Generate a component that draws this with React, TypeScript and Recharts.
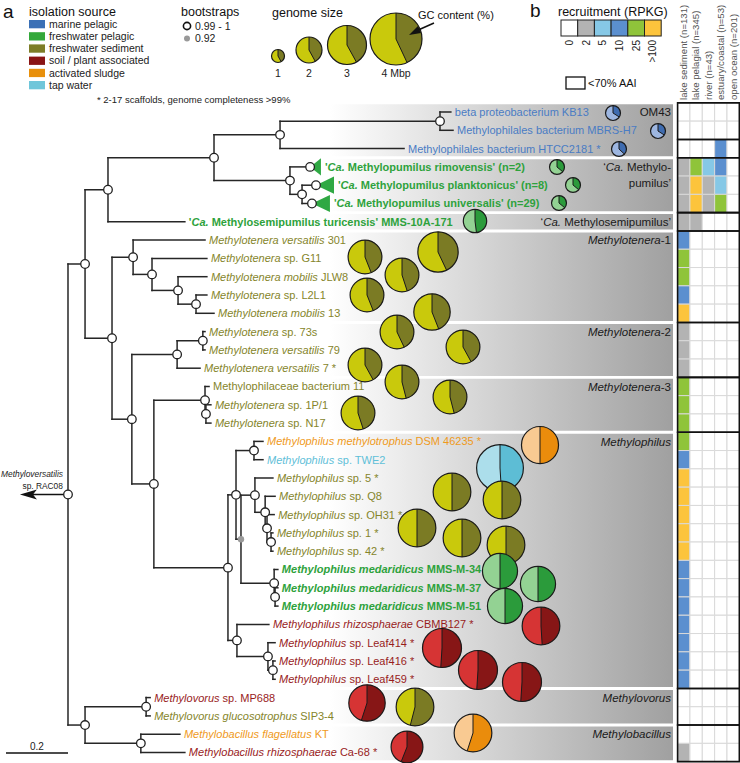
import React from "react";
import {
  ScatterChart,
  Scatter,
  XAxis,
  YAxis,
  ReferenceLine,
  ReferenceArea,
} from "recharts";

const FONT = "'Liberation Sans', Arial, Helvetica, sans-serif";

// isolation sources (legend order)
const sourceLabels = [
  "marine pelagic",
  "freshwater pelagic",
  "freshwater sediment",
  "soil / plant associated",
  "activated sludge",
  "tap water",
];
const swatchColors = ["#3a70b6", "#33a83a", "#7d7d27", "#8a1414", "#e8900c", "#6fc6da"];
const labelColors = ["#4a7cc4", "#2ea23c", "#85852b", "#981c1c", "#ef9a1c", "#5fc0d8"];
const pieLight = ["#9db6e0", "#93d293", "#c9c90c", "#d63434", "#f9ca92", "#acdeeb"];
const pieDark = ["#3f6cb0", "#2b9b3b", "#7b7b24", "#871616", "#ea8c0c", "#5dbdd5"];

// leaves, top to bottom (_x_ = italic)
const leafNames = [
  "beta proteobacterium KB13",
  "Methylophilales bacterium MBRS-H7",
  "Methylophilales bacterium HTCC2181 *",
  "'_Ca._ Methylopumilus rimovensis' (n=2)",
  "'_Ca._ Methylopumilus planktonicus' (n=8)",
  "'_Ca._ Methylopumilus universalis' (n=29)",
  "'_Ca._ Methylosemipumilus turicensis' MMS-10A-171",
  "_Methylotenera versatilis_ 301",
  "_Methylotenera_ sp. G11",
  "_Methylotenera mobilis_ JLW8",
  "_Methylotenera_ sp. L2L1",
  "_Methylotenera mobilis_ 13",
  "_Methylotenera_ sp. 73s",
  "_Methylotenera versatilis_ 79",
  "_Methylotenera versatilis_ 7 *",
  "Methylophilaceae bacterium 11",
  "_Methylotenera_ sp. 1P/1",
  "_Methylotenera_ sp. N17",
  "_Methylophilus methylotrophus_ DSM 46235 *",
  "_Methylophilus_ sp. TWE2",
  "_Methylophilus_ sp. 5 *",
  "_Methylophilus_ sp. Q8",
  "_Methylophilus_ sp. OH31 *",
  "_Methylophilus_ sp. 1 *",
  "_Methylophilus_ sp. 42 *",
  "_Methylophilus medaridicus_ MMS-M-34",
  "_Methylophilus medaridicus_ MMS-M-37",
  "_Methylophilus medaridicus_ MMS-M-51",
  "_Methylophilus rhizosphaerae_ CBMB127 *",
  "_Methylophilus_ sp. Leaf414 *",
  "_Methylophilus_ sp. Leaf416 *",
  "_Methylophilus_ sp. Leaf459 *",
  "_Methylovorus_ sp. MP688",
  "_Methylovorus glucosotrophus_ SIP3-4",
  "_Methylobacillus flagellatus_ KT",
  "_Methylobacillus rhizosphaerae_ Ca-68 *",
];
const leafSource = [
  0, 0, 0, 1, 1, 1, 1, 2, 2, 2, 2, 2, 2, 2, 2, 2, 2, 2, 4, 5, 2, 2, 2, 2, 2, 1, 1, 1, 3, 3, 3, 3, 3, 2, 4, 3,
];
const newTaxaRows = [4, 5, 6, 7, 26, 27, 28];

// tip depth (substitutions/site from the root)
const leafTip = [
  1.235, 1.242, 1.084, 0.816, 0.858, 0.845, 0.377, 0.442, 0.448, 0.448, 0.448, 0.471, 0.442, 0.442,
  0.426, 0.455, 0.461, 0.461, 0.629, 0.629, 0.661, 0.668, 0.665, 0.661, 0.661, 0.677, 0.677, 0.677,
  0.648, 0.668, 0.668, 0.668, 0.265, 0.265, 0.361, 0.377,
];
// collapsed clades: depth of the clade's base node
const collapsedBase: Record<number, number> = { 4: 0.781, 5: 0.8, 6: 0.787 };

const genomeSize = [
  1.15, 1.15, 1.15, 1.15, 1.15, 1.15, 1.8, 3.1, 2.6, 2.6, 2.6, 2.8, 2.6, 2.6, 2.6, 2.6, 2.6, 2.6, 2.85,
  3.6, 2.9, 2.9, 2.9, 2.9, 2.9, 2.7, 2.7, 2.7, 2.9, 3.0, 3.0, 3.0, 2.8, 2.9, 2.9, 2.45,
];
const gcContent = [
  34, 34, 37, 36, 36, 36, 48, 43, 44, 45, 44, 44, 43, 42, 42, 46, 46, 45, 50, 49, 50, 50, 50, 50, 50,
  50, 50, 50, 49, 51, 51, 51, 55, 54, 55, 56,
];

// internal nodes: depth, children (numbers = leaf rows), bootstrap support
const treeNodes = [
  { id: "root", depth: 0, kids: ["G", "Y"], support: 1 },
  { id: "G", depth: 0.055, kids: ["E", "H"], support: 1 },
  { id: "E", depth: 0.129, kids: ["B", 7], support: 1 },
  { id: "B", depth: 0.471, kids: ["A", "C"], support: 1 },
  { id: "A", depth: 0.684, kids: ["OM", 3], support: 1 },
  { id: "OM", depth: 1.2, kids: [1, 2], support: 1 },
  { id: "C", depth: 0.716, kids: [4, "D"], support: 1 },
  { id: "D", depth: 0.755, kids: [5, 6], support: 1 },
  { id: "H", depth: 0.142, kids: ["T1", "I"], support: 1 },
  { id: "T1", depth: 0.21, kids: [8, "n1"], support: 1 },
  { id: "n1", depth: 0.271, kids: [9, "n2"], support: 1 },
  { id: "n2", depth: 0.355, kids: [10, "n3"], support: 1 },
  { id: "n3", depth: 0.413, kids: [11, 12], support: 1 },
  { id: "I", depth: 0.206, kids: ["T2", "J"], support: 1 },
  { id: "T2", depth: 0.352, kids: ["n4", 15], support: 1 },
  { id: "n4", depth: 0.435, kids: [13, 14], support: 1 },
  { id: "J", depth: 0.277, kids: ["T3", "K"], support: 1 },
  { id: "T3", depth: 0.442, kids: [16, "n5"], support: 1 },
  { id: "n5", depth: 0.445, kids: [17, 18], support: 1 },
  { id: "K", depth: 0.516, kids: ["L", "M"], support: 1 },
  { id: "L", depth: 0.542, kids: ["N", "Q"], support: 1 },
  { id: "N", depth: 0.6, kids: [19, 20], support: 1 },
  { id: "Q", depth: 0.558, kids: ["O", "P"], support: 0.92 },
  { id: "O", depth: 0.603, kids: [21, "R"], support: 1 },
  { id: "R", depth: 0.636, kids: [22, "T"], support: 1 },
  { id: "T", depth: 0.642, kids: [23, "U"], support: 1 },
  { id: "U", depth: 0.655, kids: [24, 25], support: 1 },
  { id: "P", depth: 0.665, kids: [26, "V"], support: 1 },
  { id: "V", depth: 0.668, kids: [27, 28], support: 1 },
  { id: "M", depth: 0.545, kids: [29, "W"], support: 1 },
  { id: "W", depth: 0.645, kids: [30, "X"], support: 1 },
  { id: "X", depth: 0.661, kids: [31, 32], support: 1 },
  { id: "Y", depth: 0.055, kids: ["Z", "AA"], support: 1 },
  { id: "Z", depth: 0.252, kids: [33, 34], support: 1 },
  { id: "AA", depth: 0.235, kids: [35, 36], support: 1 },
];

// recruitment (RPKG bins) per habitat, one value per leaf row
const habitats = [
  "lake sediment (n=131)",
  "lake pelagial (n=345)",
  "river (n=43)",
  "estuary/coastal (n=53)",
  "open ocean (n=201)",
];
const rpkgBins = [0, 2, 5, 10, 25, 100];
const rpkgLabels = ["0", "2", "5", "10", "25", ">100"];
const rpkgColors = ["#ffffff", "#b3b3b3", "#86c8e6", "#5b8fcf", "#8fc43a", "#fcc43c"];
const lakeSediment = [0, 0, 0, 2, 2, 2, 2, 10, 25, 25, 10, 100, 2, 2, 2, 25, 25, 25, 25, 10, 100, 100, 100, 100, 100, 10, 10, 10, 10, 10, 10, 10, 0, 0, 0, 2];
const lakePelagial = [0, 0, 0, 25, 100, 100, 2, 0, 0, 0, 0, 0, 0, 0, 0, 0, 0, 0, 0, 0, 0, 0, 0, 0, 0, 0, 0, 0, 0, 0, 0, 0, 0, 0, 0, 0];
const river = [0, 0, 0, 5, 2, 2, 0, 0, 0, 0, 0, 0, 0, 0, 0, 0, 0, 0, 0, 0, 0, 0, 0, 0, 0, 0, 0, 0, 0, 0, 0, 0, 0, 0, 0, 0];
const estuary = [0, 0, 10, 10, 5, 25, 0, 0, 0, 0, 0, 0, 0, 0, 0, 0, 0, 0, 0, 0, 0, 0, 0, 0, 0, 0, 0, 0, 0, 0, 0, 0, 0, 0, 0, 0];
const openOcean = [0, 0, 0, 0, 0, 0, 0, 0, 0, 0, 0, 0, 0, 0, 0, 0, 0, 0, 0, 0, 0, 0, 0, 0, 0, 0, 0, 0, 0, 0, 0, 0, 0, 0, 0, 0];
const recruitment = [lakeSediment, lakePelagial, river, estuary, openOcean];

// clades (shaded bands) and <70% AAI boxes
const cladeLabels = [
  "OM43",
  "‘_Ca._ Methylo-|pumilus’",
  "‘_Ca._ Methylosemipumilus’",
  "_Methylotenera_-1",
  "_Methylotenera_-2",
  "_Methylotenera_-3",
  "_Methylophilus_",
  "_Methylovorus_",
  "_Methylobacillus_",
];
const cladeFirst = [1, 4, 7, 8, 13, 16, 19, 33, 35];
const cladeLast = [3, 6, 7, 12, 15, 18, 32, 34, 36];
const aaiGroups = [[1, 2], [3, 3], [4, 6], [7, 7], [8, 12], [13, 15], [16, 18], [19, 32], [33, 34], [35, 36]];

// pie placement next to the labels (page pixels)
const pieLayout = [
  [613, 113], [658, 131], [619, 149], [557, 167], [573, 185], [559, 203], [475, 221],
  [438, 252], [365, 257], [402, 275], [367, 295], [432, 312],
  [397, 332], [463, 347], [365, 365],
  [402, 382], [450, 397], [358, 413],
  [540, 445], [500, 468], [452, 492], [502, 500], [417, 528], [462, 538], [506, 545],
  [500, 571], [538, 584], [505, 606], [541, 626], [442, 648], [478, 670], [522, 682],
  [367, 703], [415, 707], [473, 733], [407, 747],
];

// genome-size legend
const legendSizes = [1, 2, 3, 4];
const legendGC = [42, 42, 42, 43];

const MBP_R = 6.5;

// ---------- tree layout ----------
const nodeById = new Map(treeNodes.map((n) => [n.id, n]));
const rowOf = (k: any): number => {
  if (typeof k === "number") return k;
  const n: any = nodeById.get(k);
  return (rowOf(n.kids[0]) + rowOf(n.kids[n.kids.length - 1])) / 2;
};
const startOf = (k: any): number =>
  typeof k === "number" ? collapsedBase[k] ?? leafTip[k - 1] : (nodeById.get(k) as any).depth;

const edges: { x1: number; y1: number; x2: number; y2: number }[] = [];
treeNodes.forEach((n) => {
  const ys = n.kids.map(rowOf);
  edges.push({ x1: n.depth, y1: ys[0], x2: n.depth, y2: ys[ys.length - 1] });
  n.kids.forEach((k, i) => edges.push({ x1: n.depth, y1: ys[i], x2: startOf(k), y2: ys[i] }));
});

const nodePoints = [
  ...treeNodes.map((n) => ({ x: n.depth, y: rowOf(n.id), support: n.support })),
  ...Object.keys(collapsedBase).map((r) => ({ x: collapsedBase[Number(r)], y: Number(r), support: 1 })),
];
const rootRow = rowOf("root");

const leafPoints = leafNames.map((name, i) => ({
  x: leafTip[i],
  y: i + 1,
  name,
  src: leafSource[i],
  bold: newTaxaRows.includes(i + 1),
}));

const piePoints = leafNames.map((_, i) => ({
  x: pieLayout[i][0],
  y: pieLayout[i][1],
  size: genomeSize[i],
  gc: gcContent[i],
  src: leafSource[i],
}));

const heatCells: { col: number; row: number; v: number }[] = [];
recruitment.forEach((vals, c) => vals.forEach((v, r) => heatCells.push({ col: c, row: r + 1, v })));

const rich = (s: string) =>
  s.split("_").map((p, i) =>
    p === "" ? null : (
      <tspan key={i} fontStyle={i % 2 ? "italic" : "normal"}>
        {p}
      </tspan>
    )
  );

function PieGlyph({ cx, cy, r, gc, light, dark }: any) {
  const a = (gc / 100) * Math.PI * 2;
  const ex = cx + r * Math.sin(a);
  const ey = cy - r * Math.cos(a);
  const large = gc > 50 ? 1 : 0;
  return (
    <g>
      <circle cx={cx} cy={cy} r={r} fill={light} />
      <path d={`M${cx},${cy} L${cx},${cy - r} A${r},${r} 0 ${large} 1 ${ex},${ey} Z`} fill={dark} />
      <path d={`M${cx},${cy - r} L${cx},${cy} L${ex},${ey}`} fill="none" stroke="#1a1a1a" strokeWidth={1} />
      <circle cx={cx} cy={cy} r={r} fill="none" stroke="#1a1a1a" strokeWidth={1.2} />
    </g>
  );
}

function LegendOverlay() {
  const swY = [20, 32.2, 44.4, 56.6, 68.8, 81];
  const lgX = [278, 309, 347, 396];
  const lgY = [56, 50, 45, 39];
  return (
    <svg width={740} height={110} style={{ position: "absolute", left: 0, top: 0 }} fontFamily={FONT}>
      <text x={3} y={18} fontSize={19} fill="#111">a</text>
      <text x={29} y={16} fontSize={12.5} fill="#111">isolation source</text>
      {sourceLabels.map((s, i) => (
        <g key={s}>
          <rect x={29} y={swY[i]} width={16} height={8.3} fill={swatchColors[i]} />
          <text x={49} y={swY[i] + 7.8} fontSize={10.5} fill="#222">{s}</text>
        </g>
      ))}
      <text x={181} y={16} fontSize={12.5} fill="#111">bootstraps</text>
      <circle cx={187} cy={26} r={3.6} fill="#fff" stroke="#111" strokeWidth={1.6} />
      <text x={195} y={30} fontSize={10.5} fill="#222">0.99 - 1</text>
      <circle cx={187} cy={38.5} r={3} fill="#999" />
      <text x={195} y={42} fontSize={10.5} fill="#222">0.92</text>
      <text x={97} y={103} fontSize={9.5} fill="#222">* 2-17 scaffolds, genome completeness &gt;99%</text>

      <text x={272} y={17} fontSize={12.5} fill="#111">genome size</text>
      {legendSizes.map((s, i) => (
        <g key={s}>
          <PieGlyph cx={lgX[i]} cy={lgY[i]} r={s * MBP_R} gc={legendGC[i]} light={pieLight[2]} dark={pieDark[2]} />
          <text x={lgX[i]} y={77} fontSize={10.5} textAnchor="middle" fill="#222">
            {i === 3 ? "4 Mbp" : String(s)}
          </text>
        </g>
      ))}
      <text x={418} y={19} fontSize={11} fill="#111">GC content (%)</text>
      <line x1={434} y1={23} x2={416} y2={31} stroke="#111" strokeWidth={1.4} />
      <polygon points="409,35 418,26 421,33" fill="#111" />

      <text x={530} y={17} fontSize={19} fill="#111">b</text>
      <text x={558} y={16} fontSize={12.5} fill="#111">recruitment (RPKG)</text>
      {rpkgColors.map((c, i) => (
        <g key={c}>
          <rect x={561 + i * 16.7} y={20} width={16.7} height={16} fill={c} stroke="#222" strokeWidth={1} />
          <text
            x={561 + i * 16.7 + 8.35}
            y={40}
            dy="0.35em"
            fontSize={10}
            fill="#222"
            textAnchor="end"
            transform={`rotate(-90 ${561 + i * 16.7 + 8.35} 40)`}
          >
            {rpkgLabels[i]}
          </text>
        </g>
      ))}
      <rect x={566} y={77} width={19} height={12} fill="#fff" stroke="#111" strokeWidth={1.3} />
      <text x={588} y={87} fontSize={11} fill="#111">&lt;70% AAI</text>
    </svg>
  );
}

export default function App() {
  return (
    <div style={{ position: "absolute", left: 0, top: 0, width: 740, height: 763, background: "#fff" }}>
      <ScatterChart width={740} height={763} margin={{ top: 0, right: 0, bottom: 0, left: 0 }}>
        <defs>
          <linearGradient id="bandFade" x1="0" y1="0" x2="1" y2="0">
            <stop offset="0%" stopColor="#ffffff" />
            <stop offset="100%" stopColor="#a0a0a0" />
          </linearGradient>
        </defs>
        <XAxis xAxisId="tree" type="number" dataKey="x" domain={[-0.21935, 2.16774]} allowDataOverflow hide />
        <XAxis xAxisId="px" type="number" dataKey="x" domain={[0, 740]} allowDataOverflow hide />
        <XAxis xAxisId="hm" type="number" dataKey="x" domain={[-54.866, 5.053]} allowDataOverflow hide />
        <YAxis yAxisId="row" type="number" dataKey="y" domain={[-5.12, 36.574]} reversed allowDataOverflow hide />
        <YAxis yAxisId="px" type="number" dataKey="y" domain={[0, 763]} reversed allowDataOverflow hide />

        {/* clade bands */}
        {cladeFirst.map((f, i) => (
          <ReferenceArea
            key={`band-${i}`}
            xAxisId="px"
            yAxisId="row"
            x1={330}
            x2={673}
            y1={f - 0.5 + 0.08}
            y2={cladeLast[i] + 0.5 - 0.08}
            fill="url(#bandFade)"
            fillOpacity={1}
            stroke="none"
          />
        ))}

        {/* recruitment heatmap */}
        {heatCells.map((c) => (
          <ReferenceArea
            key={`hm-${c.col}-${c.row}`}
            xAxisId="hm"
            yAxisId="row"
            x1={c.col}
            x2={c.col + 1}
            y1={c.row - 0.5}
            y2={c.row + 0.5}
            fill={rpkgColors[rpkgBins.indexOf(c.v)]}
            fillOpacity={1}
            stroke="#d9d9d9"
            strokeWidth={1}
          />
        ))}
        {aaiGroups.map(([a, b]) => (
          <ReferenceArea
            key={`aai-${a}`}
            xAxisId="hm"
            yAxisId="row"
            x1={0}
            x2={5}
            y1={a - 0.5}
            y2={b + 0.5}
            fill="none"
            fillOpacity={0}
            stroke="#111"
            strokeWidth={1.6}
          />
        ))}

        {/* tree branches */}
        {edges.map((e, i) => (
          <ReferenceLine
            key={`e-${i}`}
            xAxisId="tree"
            yAxisId="row"
            segment={[
              { x: e.x1, y: e.y1 },
              { x: e.x2, y: e.y2 },
            ]}
            stroke="#262626"
            strokeWidth={1.5}
            strokeLinecap="square"
          />
        ))}
        {/* outgroup arrow */}
        <ReferenceLine
          xAxisId="tree"
          yAxisId="row"
          segment={[
            { x: -0.115, y: rootRow },
            { x: 0, y: rootRow },
          ]}
          stroke="#111"
          strokeWidth={1.6}
        />
        {/* scale bar */}
        <ReferenceLine
          xAxisId="tree"
          yAxisId="px"
          segment={[
            { x: -0.2, y: 753 },
            { x: 0, y: 753 },
          ]}
          stroke="#111"
          strokeWidth={1.3}
        />

        {/* collapsed clades */}
        {Object.keys(collapsedBase).map((r) => {
          const row = Number(r);
          return (
            <ReferenceArea
              key={`tri-${row}`}
              xAxisId="tree"
              yAxisId="row"
              x1={collapsedBase[row]}
              x2={leafTip[row - 1]}
              y1={row - 0.47}
              y2={row + 0.47}
              fillOpacity={1}
              shape={(p: any) => (
                <polygon
                  points={`${p.x},${p.y + p.height / 2} ${p.x + p.width},${p.y} ${p.x + p.width},${p.y + p.height}`}
                  fill="#2fa843"
                />
              )}
            />
          );
        })}

        <Scatter
          xAxisId="tree"
          yAxisId="row"
          data={[{ x: -0.155, y: rootRow }]}
          isAnimationActive={false}
          shape={(p: any) => (
            <g>
              <polygon
                points={`${p.cx},${p.cy} ${p.cx + 17},${p.cy - 5} ${p.cx + 13},${p.cy} ${p.cx + 17},${p.cy + 5}`}
                fill="#111"
              />
              <text x={p.cx + 43} y={p.cy - 18} fontSize={8.4} fontFamily={FONT} textAnchor="end" fontStyle="italic" fill="#222">
                Methyloversatilis
              </text>
              <text x={p.cx + 43} y={p.cy - 6} fontSize={8.4} fontFamily={FONT} textAnchor="end" fill="#222">
                sp. RAC08
              </text>
            </g>
          )}
        />

        <Scatter
          xAxisId="tree"
          yAxisId="row"
          data={nodePoints}
          isAnimationActive={false}
          shape={(p: any) =>
            p.payload.support >= 0.99 ? (
              <circle cx={p.cx} cy={p.cy} r={4.3} fill="#fff" stroke="#222" strokeWidth={1.3} />
            ) : (
              <circle cx={p.cx} cy={p.cy} r={3.2} fill="#9a9a9a" />
            )
          }
        />

        <Scatter
          xAxisId="tree"
          yAxisId="row"
          data={leafPoints}
          isAnimationActive={false}
          shape={(p: any) => (
            <text
              x={p.cx + 4}
              y={p.cy}
              dy="0.36em"
              fontFamily={FONT}
              fontSize={11}
              fontWeight={p.payload.bold ? "bold" : "normal"}
              fill={labelColors[p.payload.src]}
              style={{ whiteSpace: "pre" }}
            >
              {rich(p.payload.name)}
            </text>
          )}
        />

        <Scatter
          xAxisId="px"
          yAxisId="px"
          data={piePoints}
          isAnimationActive={false}
          shape={(p: any) => (
            <PieGlyph
              cx={p.cx}
              cy={p.cy}
              r={p.payload.size * MBP_R}
              gc={p.payload.gc}
              light={pieLight[p.payload.src]}
              dark={pieDark[p.payload.src]}
            />
          )}
        />

        <Scatter
          xAxisId="px"
          yAxisId="row"
          data={cladeLabels.map((l, i) => ({ x: 671, y: cladeFirst[i], label: l }))}
          isAnimationActive={false}
          shape={(p: any) => (
            <text x={p.cx} y={p.cy} fontFamily={FONT} fontSize={11.5} fill="#1a1a1a" textAnchor="end" style={{ whiteSpace: "pre" }}>
              {p.payload.label.split("|").map((line: string, j: number) => (
                <tspan key={j} x={p.cx} dy={j === 0 ? "0.36em" : 16}>
                  {rich(line)}
                </tspan>
              ))}
            </text>
          )}
        />

        <Scatter
          xAxisId="hm"
          yAxisId="px"
          data={habitats.map((h, i) => ({ x: i + 0.5, y: 100, label: h }))}
          isAnimationActive={false}
          shape={(p: any) => (
            <text
              x={p.cx}
              y={p.cy}
              dy="0.35em"
              fontFamily={FONT}
              fontSize={9.6}
              fill="#555"
              textAnchor="start"
              transform={`rotate(-90 ${p.cx} ${p.cy})`}
            >
              {p.payload.label}
            </text>
          )}
        />

        <Scatter
          xAxisId="tree"
          yAxisId="px"
          data={[{ x: -0.1, y: 746 }]}
          isAnimationActive={false}
          shape={(p: any) => (
            <text x={p.cx} y={p.cy} dy="0.35em" fontFamily={FONT} fontSize={10} fill="#222" textAnchor="middle">
              0.2
            </text>
          )}
        />
      </ScatterChart>
      <LegendOverlay />
    </div>
  );
}
